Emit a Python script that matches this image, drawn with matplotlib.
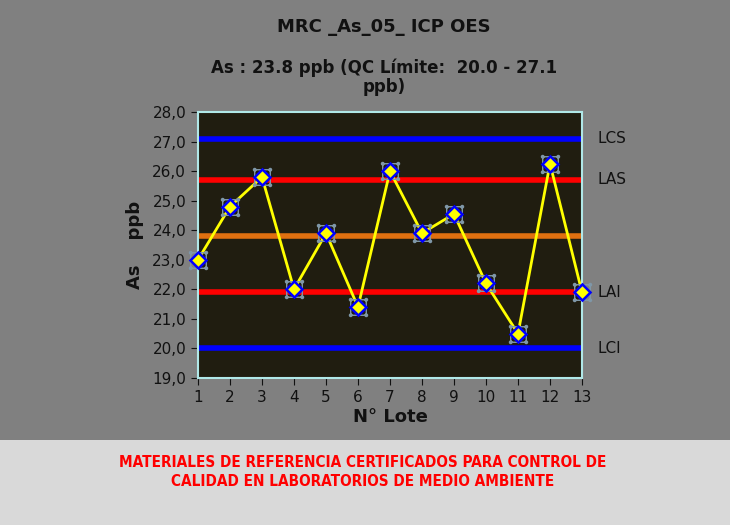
import numpy as np
import matplotlib
matplotlib.use("Agg")
import matplotlib.pyplot as plt
from matplotlib.patches import Rectangle
from matplotlib.path import Path
import matplotlib.transforms as mtransforms

lotes = list(range(1, 14))
valores = [23.0, 24.8, 25.8, 22.0, 23.9, 21.4, 26.0, 23.9, 24.55, 22.2, 20.5, 26.25, 21.9]

# limites de control
lim_nombres = ["LCS", "LAS", "", "LAI", "LCI"]
lim_valores = [27.1, 25.7, 23.8, 21.9, 20.0]
lim_colores = ["#0000ff", "#ff0000", "#e07010", "#ff0000", "#0000ff"]

# marcador de "seleccion" (cuadro con puntos en las esquinas)
esquinas = [(-1, -1), (1, -1), (1, 1), (-1, 1)]
partes = [Path(esquinas + [(-1, -1)], closed=True)]
partes += [Path.circle(c, 0.16) for c in esquinas]
marco = Path.make_compound_path(*partes)

fig = plt.figure(figsize=(7.3, 5.25), dpi=100)
fig.patch.set_facecolor("#808080")
fig.patches.append(Rectangle((0, 0), 1, 85 / 525, transform=fig.transFigure,
                             facecolor="#d9d9d9", edgecolor="none", zorder=0))

ax = fig.add_axes([198 / 730, 1 - 378 / 525, 384 / 730, 266 / 525])
ax.set_facecolor("#201d10")

for nombre, v, c in zip(lim_nombres, lim_valores, lim_colores):
    ax.axhline(v, color=c, lw=4, zorder=2)
    if nombre:
        trans = mtransforms.blended_transform_factory(ax.transAxes, ax.transData)
        ax.text(1.04, v, nombre, transform=trans, fontsize=11, va="center",
                ha="left", color="#111111")

ax.plot(lotes, valores, color="#ffff00", lw=2, zorder=3)
ax.plot(lotes, valores, ls="none", marker=marco, ms=13, mfc="none",
        mec="#7f97a8", mew=1.0, zorder=4, clip_on=False)
ax.plot(lotes, valores, ls="none", marker="D", ms=8.5, mfc="#ffff00",
        mec="#0000ff", mew=1.8, zorder=5, clip_on=False)

ax.set_xlim(1, 13)
ax.set_ylim(19, 28)
ax.set_xticks(lotes)
ax.set_yticks(np.arange(19, 28.1, 1))
ax.set_yticklabels([f"{t:.1f}".replace(".", ",") for t in np.arange(19, 28.1, 1)])
ax.tick_params(labelsize=11, colors="#111111", direction="out", length=5)
for s in ax.spines.values():
    s.set_color("#b0e8e8")
    s.set_linewidth(1.5)

ax.set_xlabel("N° Lote", fontsize=13, fontweight="bold", color="#111111", labelpad=2)
ax.set_ylabel("As    ppb", fontsize=13, fontweight="bold", color="#111111", labelpad=6)

fig.text(384 / 730, 1 - 27 / 525, "MRC _As_05_ ICP OES", ha="center", va="center",
         fontsize=13, fontweight="bold", color="#111111")
fig.text(384 / 730, 1 - 77 / 525, "As : 23.8 ppb (QC Límite:  20.0 - 27.1\nppb)",
         ha="center", va="center", fontsize=12, fontweight="bold", color="#111111",
         linespacing=1.1)

fig.text(363 / 730, 1 - 472 / 525,
         "MATERIALES DE REFERENCIA CERTIFICADOS PARA CONTROL DE\nCALIDAD EN LABORATORIOS DE MEDIO AMBIENTE",
         ha="center", va="center", fontsize=11, fontweight="bold", color="#ff0000",
         family="DejaVu Sans", fontstretch="condensed", linespacing=1.4)

fig.savefig("out.png", dpi=100, facecolor=fig.get_facecolor())
